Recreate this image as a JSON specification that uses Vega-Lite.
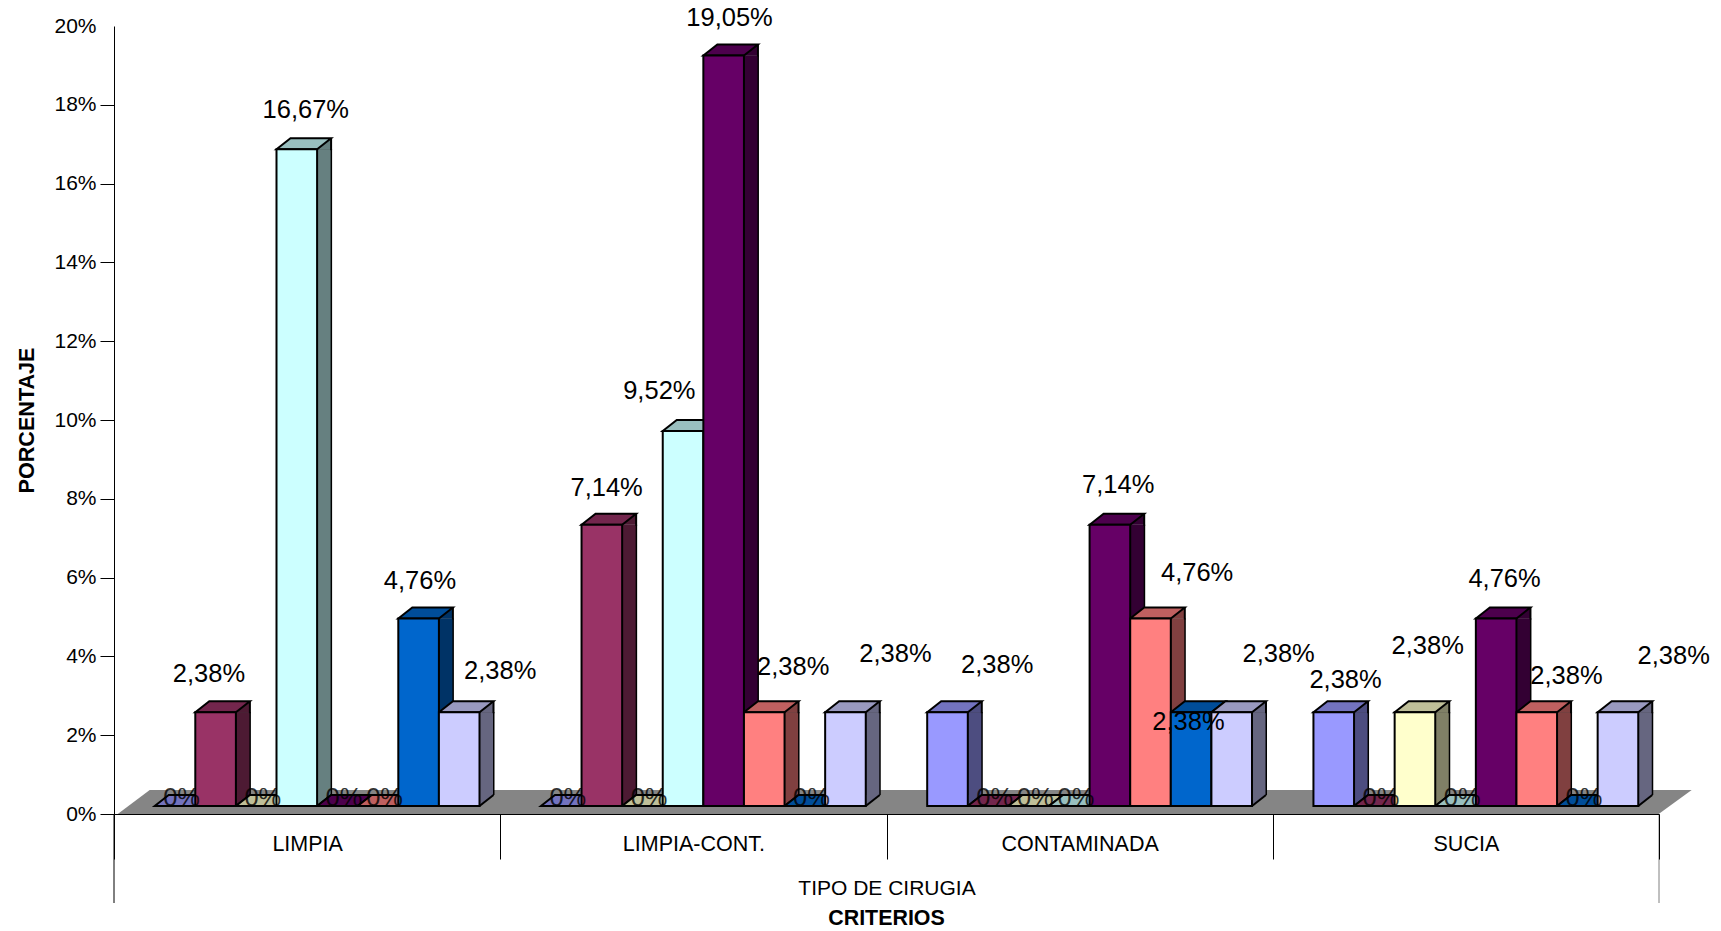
{
  "$schema": "https://vega.github.io/schema/vega-lite/v6.json",
  "autosize": "none",
  "width": 1545,
  "height": 788,
  "padding": {"left": 114, "top": 26, "right": 62, "bottom": 117},
  "background": "white",
  "config": {
    "view": {"stroke": null},
    "font": "Liberation Sans",
    "locale": {"number": {"decimal": ",", "thousands": ".", "grouping": [3], "currency": ["", " €"]}}
  },
  "title": {"text": "CRITERIOS", "orient": "bottom", "anchor": "middle", "frame": "group", "font": "Liberation Sans", "fontSize": 21.4, "fontWeight": "bold", "color": "#000000", "offset": 4.5},
  "datasets": {
    "tabla": [
      {"criterio": "LIMPIA", "serie": 1, "valor": 0, "base": 0},
      {"criterio": "LIMPIA", "serie": 2, "valor": 0.0238, "base": 0},
      {"criterio": "LIMPIA", "serie": 3, "valor": 0, "base": 0},
      {"criterio": "LIMPIA", "serie": 4, "valor": 0.1667, "base": 0},
      {"criterio": "LIMPIA", "serie": 5, "valor": 0, "base": 0},
      {"criterio": "LIMPIA", "serie": 6, "valor": 0, "base": 0},
      {"criterio": "LIMPIA", "serie": 7, "valor": 0.0476, "base": 0},
      {"criterio": "LIMPIA", "serie": 8, "valor": 0.0238, "base": 0},
      {"criterio": "LIMPIA-CONT.", "serie": 1, "valor": 0, "base": 0},
      {"criterio": "LIMPIA-CONT.", "serie": 2, "valor": 0.0714, "base": 0},
      {"criterio": "LIMPIA-CONT.", "serie": 3, "valor": 0, "base": 0},
      {"criterio": "LIMPIA-CONT.", "serie": 4, "valor": 0.0952, "base": 0},
      {"criterio": "LIMPIA-CONT.", "serie": 5, "valor": 0.1905, "base": 0},
      {"criterio": "LIMPIA-CONT.", "serie": 6, "valor": 0.0238, "base": 0},
      {"criterio": "LIMPIA-CONT.", "serie": 7, "valor": 0, "base": 0},
      {"criterio": "LIMPIA-CONT.", "serie": 8, "valor": 0.0238, "base": 0},
      {"criterio": "CONTAMINADA", "serie": 1, "valor": 0.0238, "base": 0},
      {"criterio": "CONTAMINADA", "serie": 2, "valor": 0, "base": 0},
      {"criterio": "CONTAMINADA", "serie": 3, "valor": 0, "base": 0},
      {"criterio": "CONTAMINADA", "serie": 4, "valor": 0, "base": 0},
      {"criterio": "CONTAMINADA", "serie": 5, "valor": 0.0714, "base": 0},
      {"criterio": "CONTAMINADA", "serie": 6, "valor": 0.0476, "base": 0},
      {"criterio": "CONTAMINADA", "serie": 7, "valor": 0.0238, "base": 0},
      {"criterio": "CONTAMINADA", "serie": 8, "valor": 0.0238, "base": 0},
      {"criterio": "SUCIA", "serie": 1, "valor": 0.0238, "base": 0},
      {"criterio": "SUCIA", "serie": 2, "valor": 0, "base": 0},
      {"criterio": "SUCIA", "serie": 3, "valor": 0.0238, "base": 0},
      {"criterio": "SUCIA", "serie": 4, "valor": 0, "base": 0},
      {"criterio": "SUCIA", "serie": 5, "valor": 0.0476, "base": 0},
      {"criterio": "SUCIA", "serie": 6, "valor": 0.0238, "base": 0},
      {"criterio": "SUCIA", "serie": 7, "valor": 0, "base": 0},
      {"criterio": "SUCIA", "serie": 8, "valor": 0.0238, "base": 0}
    ]
  },
  "data": {"name": "tabla"},
  "encoding": {
    "x": {
      "field": "criterio", "type": "nominal",
      "scale": {"domain": ["LIMPIA", "LIMPIA-CONT.", "CONTAMINADA", "SUCIA"], "paddingInner": 0, "paddingOuter": 0},
      "axis": {
        "title": "TIPO DE CIRUGIA", "titleFont": "Liberation Sans", "titleFontSize": 21, "titleFontWeight": "normal", "titleColor": "#000000", "titlePadding": 17.5,
        "labelAngle": 0, "labelFont": "Liberation Sans", "labelFontSize": 21.5, "labelColor": "#000000", "labelPadding": -26,
        "tickBand": "extent", "tickSize": 45, "tickColor": "#000000", "domainColor": "#000000", "zindex": 1, "grid": false
      }
    },
    "xOffset": {"field": "serie", "type": "nominal", "scale": {"type": "band", "domain": [1, 2, 3, 4, 5, 6, 7, 8], "range": [10, 396.2], "paddingInner": 0, "paddingOuter": 0.756}},
    "y": {
      "field": "valor", "type": "quantitative",
      "scale": {"domain": [0, 0.2], "nice": false},
      "axis": {
        "title": "PORCENTAJE", "titleFont": "Liberation Sans", "titleFontSize": 21.6, "titleFontWeight": "bold", "titleColor": "#000000", "titlePadding": 15.5,
        "values": [0, 0.02, 0.04, 0.06, 0.08, 0.1, 0.12, 0.14, 0.16, 0.18, 0.2], "format": ".0%",
        "labelFont": "Liberation Sans", "labelFontSize": 21, "labelColor": "#000000", "labelPadding": 4,
        "tickSize": 14, "tickColor": "#000000", "tickOpacity": {"condition": {"test": "datum.value >= 0.2", "value": 0}, "value": 1},
        "domainColor": "#000000", "grid": false
      }
    }
  },
  "resolve": {"scale": {"fill": "independent", "xOffset": "independent"}},
  "layer": [
    {
      "description": "Gray floor of the 3D plot",
      "data": {"values": [{"criterio": "LIMPIA", "valor": 0}]},
      "mark": {"type": "point", "shape": "M3.7,0 L35.7,-24 L1577.7,-24 L1544.7,0 Z", "size": 4, "filled": true, "fill": "#858585", "opacity": 1, "strokeWidth": 0},
      "encoding": {"xOffset": {"value": 0}}
    },
    {
      "description": "Long separators at both ends of the category axis",
      "data": {"values": [{"criterio": "LIMPIA", "valor": 0}]},
      "mark": {"type": "rule", "color": "#000000", "strokeWidth": 1, "y2Offset": 89},
      "encoding": {"x": {"field": "criterio", "type": "nominal", "bandPosition": 0}, "xOffset": {"value": 0}, "y2": {"field": "valor"}}
    },
    {
      "data": {"values": [{"criterio": "SUCIA", "valor": 0}]},
      "mark": {"type": "rule", "color": "#808080", "strokeWidth": 1, "y2Offset": 89},
      "encoding": {"x": {"field": "criterio", "type": "nominal", "bandPosition": 0}, "xOffset": {"value": 386.25}, "y2": {"field": "valor"}}
    },
    {
      "description": "Right edge of each side face",
      "transform": [{"filter": "datum.valor > 0"}],
      "mark": {"type": "bar", "width": 16, "color": "#000000", "yOffset": -8, "y2Offset": -19},
      "encoding": {
        "xOffset": {"field": "serie", "type": "nominal", "scale": {"type": "band", "domain": [1, 2, 3, 4, 5, 6, 7, 8], "range": [37.3, 423.5], "paddingInner": 0, "paddingOuter": 0.756}},
        "y2": {"datum": 0}
      }
    },
    {
      "description": "Side face, straight part",
      "transform": [{"filter": "datum.valor > 0"}],
      "mark": {"type": "bar", "width": 13, "yOffset": -8, "y2Offset": -19},
      "encoding": {
        "xOffset": {"field": "serie", "type": "nominal", "scale": {"type": "band", "domain": [1, 2, 3, 4, 5, 6, 7, 8], "range": [37.3, 423.5], "paddingInner": 0, "paddingOuter": 0.756}},
        "y2": {"datum": 0},
        "fill": {"field": "serie", "type": "nominal", "legend": null, "scale": {"domain": [1, 2, 3, 4, 5, 6, 7, 8], "range": ["#4D4D80", "#4D1A33", "#808066", "#668080", "#330033", "#804040", "#003366", "#666680"]}}
      }
    },
    {
      "description": "Side face, slanted end at the top of the bar",
      "transform": [{"filter": "datum.valor > 0"}],
      "mark": {"type": "point", "shape": "M20.3,0 L34.3,-11 L34.3,0 Z", "size": 4, "filled": true, "opacity": 1, "strokeWidth": 0, "yOffset": -8},
      "encoding": {
        "fill": {"field": "serie", "type": "nominal", "legend": null, "scale": {"domain": [1, 2, 3, 4, 5, 6, 7, 8], "range": ["#4D4D80", "#4D1A33", "#808066", "#668080", "#330033", "#804040", "#003366", "#666680"]}}
      }
    },
    {
      "description": "Side face, slanted end at the foot of the bar",
      "transform": [{"filter": "datum.valor > 0"}],
      "mark": {"type": "point", "shape": "M20.3,0 L34.3,-11 L20.3,-11 Z", "size": 4, "filled": true, "opacity": 1, "strokeWidth": 0, "yOffset": -8},
      "encoding": {
        "y": {"field": "base"},
        "fill": {"field": "serie", "type": "nominal", "legend": null, "scale": {"domain": [1, 2, 3, 4, 5, 6, 7, 8], "range": ["#4D4D80", "#4D1A33", "#808066", "#668080", "#330033", "#804040", "#003366", "#666680"]}}
      }
    },
    {
      "description": "Outline of the slanted foot and the upper right edge",
      "transform": [{"filter": "datum.valor > 0"}],
      "mark": {"type": "point", "shape": "M20.3,0 L34.3,-11", "size": 4, "filled": false, "fill": "transparent", "stroke": "#000000", "strokeWidth": 2, "opacity": 1, "yOffset": -8},
      "encoding": {"y": {"field": "base"}}
    },
    {
      "transform": [{"filter": "datum.valor > 0"}],
      "mark": {"type": "point", "shape": "M34.3,-11 L34.3,1", "size": 4, "filled": false, "fill": "transparent", "stroke": "#000000", "strokeWidth": 2, "opacity": 1, "yOffset": -8}
    },
    {
      "description": "Top faces, which are also all that shows of a zero bar",
      "mark": {"type": "point", "shape": "M-20.3,0 L-6.3,-11 L34.3,-11 L20.3,0 Z", "size": 4, "filled": true, "stroke": "#000000", "strokeWidth": 2, "opacity": 1, "yOffset": -8},
      "encoding": {
        "fill": {"field": "serie", "type": "nominal", "legend": null, "scale": {"domain": [1, 2, 3, 4, 5, 6, 7, 8], "range": ["#7373BF", "#73264D", "#BFBF99", "#99BFBF", "#4D004D", "#BF6060", "#004D99", "#9999BF"]}}
      }
    },
    {
      "description": "Front faces",
      "transform": [{"filter": "datum.valor > 0"}],
      "mark": {"type": "bar", "stroke": "#000000", "strokeWidth": 2, "yOffset": -8, "y2Offset": -8},
      "encoding": {
        "y2": {"datum": 0},
        "fill": {"field": "serie", "type": "nominal", "legend": null, "scale": {"domain": [1, 2, 3, 4, 5, 6, 7, 8], "range": ["#9999FF", "#993366", "#FFFFCC", "#CCFFFF", "#660066", "#FF8080", "#0066CC", "#CCCCFF"]}}
      }
    },
    {
      "description": "Labels of the zero bars",
      "transform": [{"filter": "datum.valor == 0"}],
      "mark": {"type": "text", "font": "Liberation Sans", "fontSize": 25.5, "color": "#000000", "opacity": 0.8, "baseline": "middle", "dx": 6.6, "dy": -16},
      "encoding": {"text": {"field": "valor", "format": ".0%"}}
    },
    {"transform": [{"filter": "datum.criterio == 'LIMPIA' && datum.serie == 2"}], "mark": {"type": "text", "font": "Liberation Sans", "fontSize": 25.5, "color": "#000000", "baseline": "middle", "dx": -6.6, "dy": -46}, "encoding": {"text": {"field": "valor", "format": ".2%"}}},
    {"transform": [{"filter": "datum.criterio == 'LIMPIA' && datum.serie == 4"}], "mark": {"type": "text", "font": "Liberation Sans", "fontSize": 25.5, "color": "#000000", "baseline": "middle", "dx": 9, "dy": -47}, "encoding": {"text": {"field": "valor", "format": ".2%"}}},
    {"transform": [{"filter": "datum.criterio == 'LIMPIA' && datum.serie == 7"}], "mark": {"type": "text", "font": "Liberation Sans", "fontSize": 25.5, "color": "#000000", "baseline": "middle", "dx": 1.4, "dy": -45.9}, "encoding": {"text": {"field": "valor", "format": ".2%"}}},
    {"transform": [{"filter": "datum.criterio == 'LIMPIA' && datum.serie == 8"}], "mark": {"type": "text", "font": "Liberation Sans", "fontSize": 25.5, "color": "#000000", "baseline": "middle", "dx": 41, "dy": -49.6}, "encoding": {"text": {"field": "valor", "format": ".2%"}}},
    {"transform": [{"filter": "datum.criterio == 'LIMPIA-CONT.' && datum.serie == 2"}], "mark": {"type": "text", "font": "Liberation Sans", "fontSize": 25.5, "color": "#000000", "baseline": "middle", "dx": 4.8, "dy": -44.3}, "encoding": {"text": {"field": "valor", "format": ".2%"}}},
    {"transform": [{"filter": "datum.criterio == 'LIMPIA-CONT.' && datum.serie == 4"}], "mark": {"type": "text", "font": "Liberation Sans", "fontSize": 25.5, "color": "#000000", "baseline": "middle", "dx": -23.7, "dy": -48.3}, "encoding": {"text": {"field": "valor", "format": ".2%"}}},
    {"transform": [{"filter": "datum.criterio == 'LIMPIA-CONT.' && datum.serie == 5"}], "mark": {"type": "text", "font": "Liberation Sans", "fontSize": 25.5, "color": "#000000", "baseline": "middle", "dx": 5.9, "dy": -45}, "encoding": {"text": {"field": "valor", "format": ".2%"}}},
    {"transform": [{"filter": "datum.criterio == 'LIMPIA-CONT.' && datum.serie == 6"}], "mark": {"type": "text", "font": "Liberation Sans", "fontSize": 25.5, "color": "#000000", "baseline": "middle", "dx": 29, "dy": -52.9}, "encoding": {"text": {"field": "valor", "format": ".2%"}}},
    {"transform": [{"filter": "datum.criterio == 'LIMPIA-CONT.' && datum.serie == 8"}], "mark": {"type": "text", "font": "Liberation Sans", "fontSize": 25.5, "color": "#000000", "baseline": "middle", "dx": 50, "dy": -66.2}, "encoding": {"text": {"field": "valor", "format": ".2%"}}},
    {"transform": [{"filter": "datum.criterio == 'CONTAMINADA' && datum.serie == 1"}], "mark": {"type": "text", "font": "Liberation Sans", "fontSize": 25.5, "color": "#000000", "baseline": "middle", "dx": 49.7, "dy": -55}, "encoding": {"text": {"field": "valor", "format": ".2%"}}},
    {"transform": [{"filter": "datum.criterio == 'CONTAMINADA' && datum.serie == 5"}], "mark": {"type": "text", "font": "Liberation Sans", "fontSize": 25.5, "color": "#000000", "baseline": "middle", "dx": 8.3, "dy": -48}, "encoding": {"text": {"field": "valor", "format": ".2%"}}},
    {"transform": [{"filter": "datum.criterio == 'CONTAMINADA' && datum.serie == 6"}], "mark": {"type": "text", "font": "Liberation Sans", "fontSize": 25.5, "color": "#000000", "baseline": "middle", "dx": 46.6, "dy": -53}, "encoding": {"text": {"field": "valor", "format": ".2%"}}},
    {"transform": [{"filter": "datum.criterio == 'CONTAMINADA' && datum.serie == 7"}], "mark": {"type": "text", "font": "Liberation Sans", "fontSize": 25.5, "color": "#000000", "baseline": "middle", "dx": -2.7, "dy": 1.3}, "encoding": {"text": {"field": "valor", "format": ".2%"}}},
    {"transform": [{"filter": "datum.criterio == 'CONTAMINADA' && datum.serie == 8"}], "mark": {"type": "text", "font": "Liberation Sans", "fontSize": 25.5, "color": "#000000", "baseline": "middle", "dx": 46.9, "dy": -66.4}, "encoding": {"text": {"field": "valor", "format": ".2%"}}},
    {"transform": [{"filter": "datum.criterio == 'SUCIA' && datum.serie == 1"}], "mark": {"type": "text", "font": "Liberation Sans", "fontSize": 25.5, "color": "#000000", "baseline": "middle", "dx": 11.8, "dy": -40}, "encoding": {"text": {"field": "valor", "format": ".2%"}}},
    {"transform": [{"filter": "datum.criterio == 'SUCIA' && datum.serie == 3"}], "mark": {"type": "text", "font": "Liberation Sans", "fontSize": 25.5, "color": "#000000", "baseline": "middle", "dx": 12.8, "dy": -74}, "encoding": {"text": {"field": "valor", "format": ".2%"}}},
    {"transform": [{"filter": "datum.criterio == 'SUCIA' && datum.serie == 5"}], "mark": {"type": "text", "font": "Liberation Sans", "fontSize": 25.5, "color": "#000000", "baseline": "middle", "dx": 8.4, "dy": -47.6}, "encoding": {"text": {"field": "valor", "format": ".2%"}}},
    {"transform": [{"filter": "datum.criterio == 'SUCIA' && datum.serie == 6"}], "mark": {"type": "text", "font": "Liberation Sans", "fontSize": 25.5, "color": "#000000", "baseline": "middle", "dx": 29.7, "dy": -44.7}, "encoding": {"text": {"field": "valor", "format": ".2%"}}},
    {"transform": [{"filter": "datum.criterio == 'SUCIA' && datum.serie == 8"}], "mark": {"type": "text", "font": "Liberation Sans", "fontSize": 25.5, "color": "#000000", "baseline": "middle", "dx": 55.8, "dy": -64}, "encoding": {"text": {"field": "valor", "format": ".2%"}}}
  ]
}
